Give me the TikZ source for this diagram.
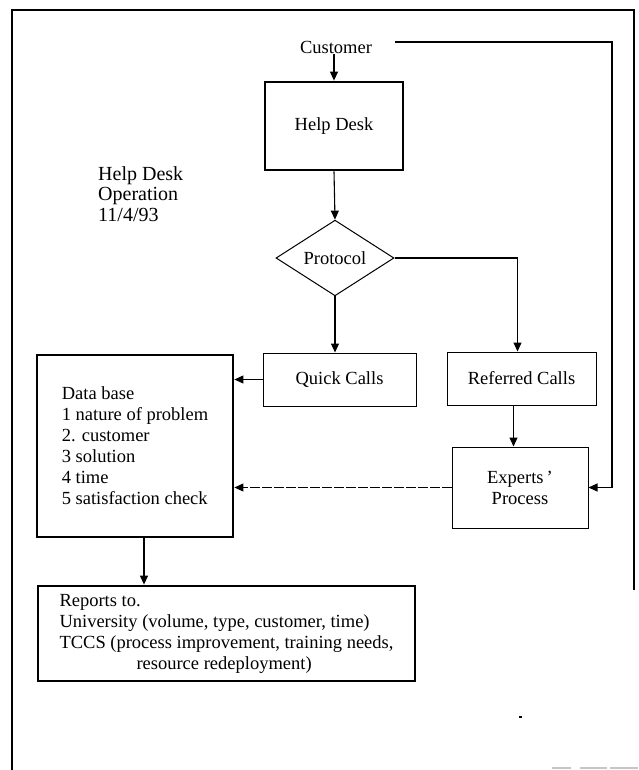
\documentclass[tikz,border=0pt]{standalone}
\usepackage{fontspec}
\setmainfont{Liberation Serif}
\usetikzlibrary{arrows.meta,shapes.geometric}
\begin{document}
\begin{tikzpicture}[x=1pt,y=-1pt,
  txt/.style={font=\fontsize{18.5}{21}\selectfont},
  thinbox/.style={draw,line width=1pt,inner sep=0pt,txt},
  thickbox/.style={draw,line width=2.8pt,inner sep=0pt,txt},
  arr/.style={line width=1.1pt,-{Triangle[length=9pt,width=8pt]}},
  frame/.style={line width=1.8pt}]
\useasboundingbox (0,0) rectangle (638,770);

% page frame (open at the bottom)
\draw[frame] (12,770) -- (12,10) -- (634,10) -- (634,590);
\draw[gray!45,line width=1.5pt] (552,768) -- (571,768) (580,768) -- (607,768) (610,768) -- (638,768);
\fill (519,716) rectangle (522,718);

% title
\node[anchor=north west,align=left,font=\fontsize{20}{20.5}\selectfont,inner sep=0pt] (title) at (98,166)
  {Help Desk\\Operation\\11/4/93};

% flow nodes
\node[txt,inner sep=1pt] (cust) at (336,47) {Customer};
\node[thickbox,minimum width=138,minimum height=88] (hd) at (334,126) {Help Desk};
\node[draw,line width=1pt,shape=diamond,minimum width=118,minimum height=74,inner sep=0pt,txt] (proto) at (335,258) {Protocol};
\node[thinbox,minimum width=153,minimum height=53] (qc) at (339.5,379.5) {Quick Calls};
\node[thinbox,minimum width=149,minimum height=53] (rc) at (521.5,378.5) {Referred Calls};
\node[thinbox,minimum width=136,minimum height=81,align=center] (exp) at (520,487.5) {Experts\,'\\Process};
\node[thickbox,minimum width=196,minimum height=182,align=left] (db) at (135,446)
  {Data base\\1 nature of problem\\2. customer\\3 solution\\4 time\\5 satisfaction check};
\node[thickbox,minimum width=377,minimum height=95,align=left] (rep) at (226.5,633.5)
  {Reports to.\\University (volume, type, customer, time)\\TCCS (process improvement, training needs,\\\hspace*{77pt}resource redeployment)};

% connectors
\coordinate (custline) at (395,42);
\coordinate (corner) at (612,42);
\draw[arr] (cust.south -| hd.north) -- (hd.north);
\draw[arr] (hd.south) -- (proto.north);
\draw[arr] (proto.south) -- (proto.south |- qc.north);
\draw[arr] (proto.east) -| ([xshift=-4pt]rc.north);
\draw[arr] ([xshift=-8pt]rc.south) -- ([xshift=-8pt]rc.south |- exp.north);
\draw[arr] (qc.west) -- (qc.west -| db.east);
\draw[arr,dash pattern=on 10pt off 2pt] (exp.west) -- (exp.west -| db.east);
\draw[arr] (custline) -- (corner) |- (exp.east);
\draw[arr] ([xshift=9pt]db.south) -- ([xshift=9pt]db.south |- rep.north);
\end{tikzpicture}
\end{document}
